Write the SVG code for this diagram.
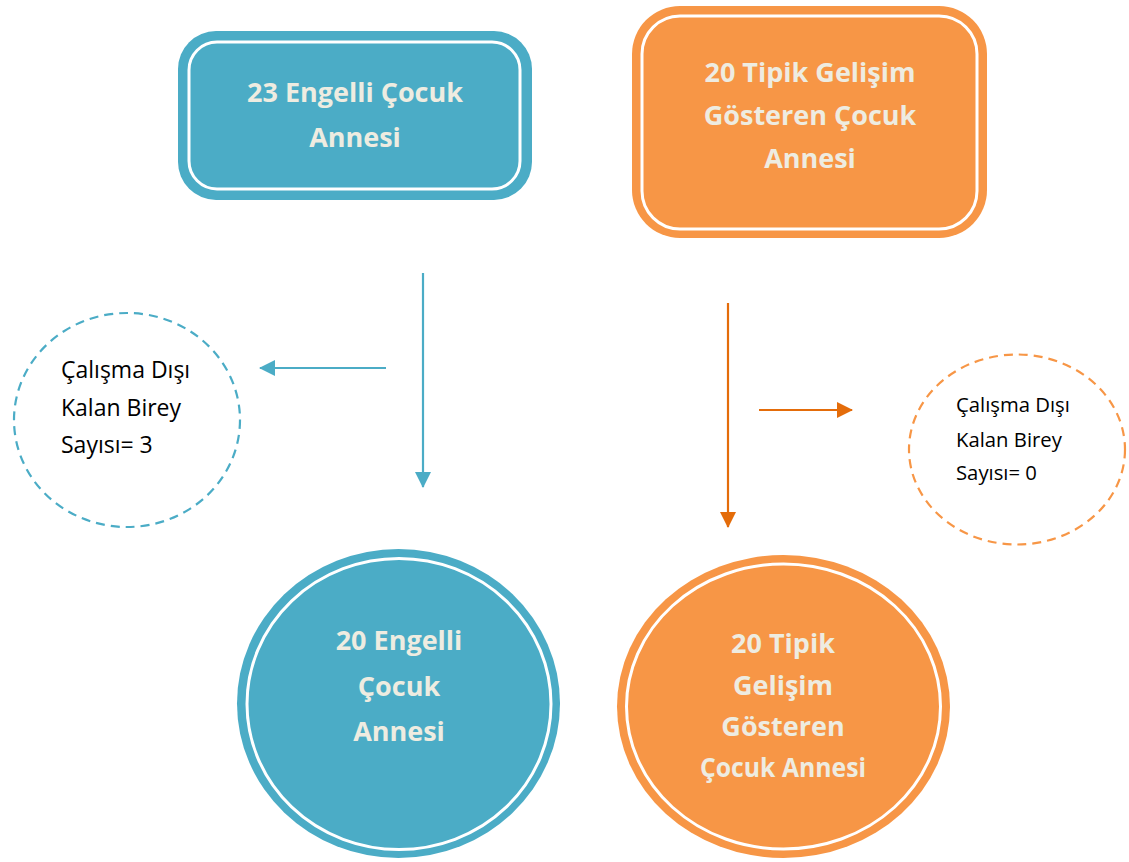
<svg xmlns="http://www.w3.org/2000/svg" width="1129" height="862" viewBox="0 0 1129 862">
<style>
.lbl{font-family:"Open Sans","Liberation Sans",sans-serif;font-weight:bold;font-size:27px;fill:#EEECE1;text-anchor:middle}
.sm{font-family:"Open Sans","Liberation Sans",sans-serif;font-size:23px;fill:#000}
.sm2{font-family:"Open Sans","Liberation Sans",sans-serif;font-size:20.3px;fill:#000}
.ring{fill:none;stroke:#FFFFFF;stroke-width:3}
</style>
<defs>
<marker id="hb" markerWidth="16" markerHeight="16" refX="15" refY="8" orient="auto" markerUnits="userSpaceOnUse"><path d="M0,0 L16,8 L0,16 Z" fill="#4BACC6"/></marker>
<marker id="ho" markerWidth="16" markerHeight="16" refX="15" refY="8" orient="auto" markerUnits="userSpaceOnUse"><path d="M0,0 L16,8 L0,16 Z" fill="#E46C0A"/></marker>
</defs>
<rect width="1129" height="862" fill="#FFFFFF"/>
<g id="node-blue-top">
<rect x="178" y="31" width="354" height="169" rx="38" fill="#4BACC6"/>
<rect x="189" y="42" width="331" height="147" rx="28" class="ring"/>
<text class="lbl" x="355" y="102">23 Engelli Çocuk</text>
<text class="lbl" x="355" y="147">Annesi</text>
</g>
<g id="node-orange-top">
<rect x="632" y="6" width="355" height="232" rx="48" fill="#F79646"/>
<rect x="642" y="16" width="335" height="213" rx="38" class="ring"/>
<text class="lbl" x="810" y="82">20 Tipik Gelişim</text>
<text class="lbl" x="810" y="125">Gösteren Çocuk</text>
<text class="lbl" x="810" y="168">Annesi</text>
</g>
<g id="node-blue-dashed">
<ellipse cx="127" cy="420" rx="113" ry="107" fill="none" stroke="#4BACC6" stroke-width="2.2" stroke-dasharray="9,6"/>
<text class="sm" x="61" y="378">Çalışma Dışı</text>
<text class="sm" x="61" y="416">Kalan Birey</text>
<text class="sm" x="61" y="453">Sayısı= 3</text>
</g>
<g id="node-orange-dashed">
<ellipse cx="1017" cy="449.5" rx="108" ry="95" fill="none" stroke="#F79646" stroke-width="2.2" stroke-dasharray="9,6"/>
<text class="sm2" x="956" y="412">Çalışma Dışı</text>
<text class="sm2" x="956" y="447">Kalan Birey</text>
<text class="sm2" x="956" y="480">Sayısı= 0</text>
</g>
<g id="node-blue-bottom">
<ellipse cx="398.5" cy="703.5" rx="161.5" ry="154.5" fill="#4BACC6"/>
<ellipse cx="399" cy="704" rx="152" ry="145.5" class="ring"/>
<text class="lbl" x="399" y="650">20 Engelli</text>
<text class="lbl" x="399" y="696">Çocuk</text>
<text class="lbl" x="399" y="741">Annesi</text>
</g>
<g id="node-orange-bottom">
<ellipse cx="783.5" cy="706.5" rx="166.5" ry="151.5" fill="#F79646"/>
<ellipse cx="783.5" cy="706.5" rx="157" ry="142.5" class="ring"/>
<text class="lbl" x="783" y="653">20 Tipik</text>
<text class="lbl" x="783" y="695">Gelişim</text>
<text class="lbl" x="783" y="736">Gösteren</text>
<text class="lbl" x="783" y="777" textLength="166" lengthAdjust="spacingAndGlyphs">Çocuk Annesi</text>
</g>
<g id="connectors">
<line x1="423" y1="273" x2="423" y2="487" stroke="#4BACC6" stroke-width="2.2" marker-end="url(#hb)"/>
<line x1="386" y1="368" x2="260" y2="368" stroke="#4BACC6" stroke-width="2.2" marker-end="url(#hb)"/>
<line x1="728" y1="303" x2="728" y2="527" stroke="#E46C0A" stroke-width="2.2" marker-end="url(#ho)"/>
<line x1="759" y1="410" x2="852" y2="410" stroke="#E46C0A" stroke-width="2.2" marker-end="url(#ho)"/>
</g>
</svg>
